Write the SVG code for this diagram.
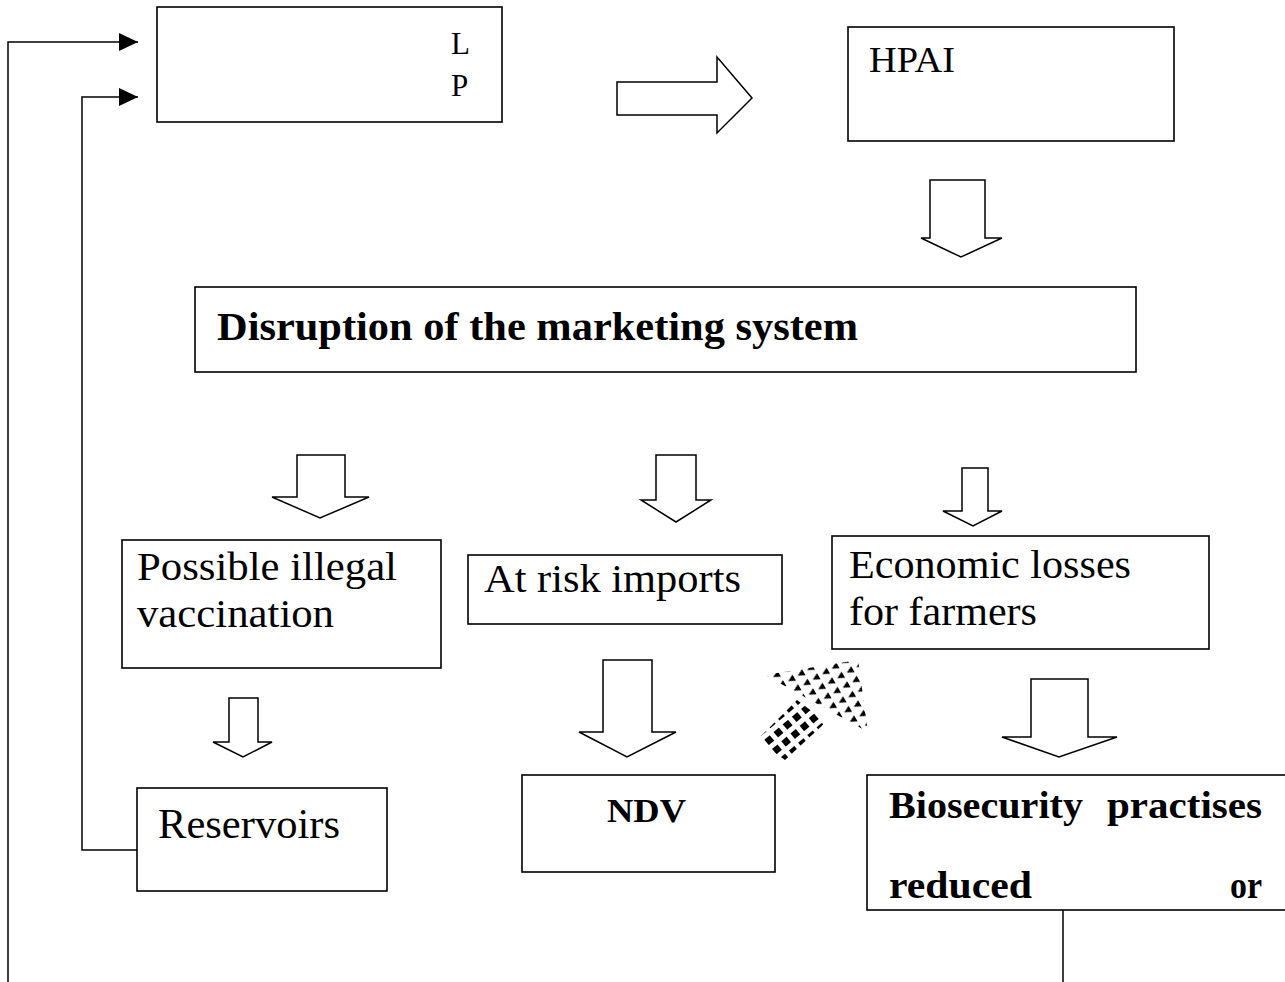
<svg xmlns="http://www.w3.org/2000/svg" width="1285" height="982" viewBox="0 0 1285 982">
  <style>
    .box { fill: #fff; stroke: #000; stroke-width: 1.6; }
    .blk { fill: #fff; stroke: #000; stroke-width: 1.5; stroke-linejoin: miter; }
    .wire { fill: none; stroke: #000; stroke-width: 1.5; }
    .t { font-family: "Liberation Serif", "Times New Roman", serif; fill: #000; }
    .b { font-weight: bold; }
  </style>
  <defs>
    <marker id="head" markerWidth="20" markerHeight="20" refX="19" refY="9" orient="auto" markerUnits="userSpaceOnUse">
      <path d="M0,0 L19,9 L0,18 Z" fill="#000"/>
    </marker>
    <!-- dark diamonds for the shaft of the patterned arrow -->
    <pattern id="dots" width="12" height="12" patternUnits="userSpaceOnUse" patternTransform="rotate(-40)">
      <rect x="2" y="2" width="7" height="7" fill="#000"/>
    </pattern>
    <!-- small triangles for the head of the patterned arrow -->
    <pattern id="tris" width="11" height="11" patternUnits="userSpaceOnUse" patternTransform="rotate(-30)">
      <path d="M1,5 L8,1.5 L8,8.5 Z" fill="#000"/>
    </pattern>
  </defs>

  <!-- connectors -->
  <g id="connectors">
    <path class="wire" d="M8,982 V42 H138" marker-end="url(#head)"/>
    <path class="wire" d="M137,850 H82 V97 H138" marker-end="url(#head)"/>
    <path class="wire" d="M1063,910 V982"/>
    <!-- block arrows -->
    <path class="blk" d="M617,82 H717 V57 L752,98 L717,133 V115 H617 Z"/>
    <path class="blk" d="M930,180 H985 V238 H1002 L961,257 L921,238 H930 Z"/>
    <path class="blk" d="M297,455 H345 V497 H369 L320,518 L272,497 H297 Z"/>
    <path class="blk" d="M656,455 H696 V500 H711 L676,522 L641,500 H656 Z"/>
    <path class="blk" d="M962,468 H988 V511 H1002 L973,526 L943,511 H962 Z"/>
    <path class="blk" d="M229,698 H258 V742 H272 L243,757 L213,742 H229 Z"/>
    <path class="blk" d="M603,660 H652 V732 H676 L627,757 L579,732 H603 Z"/>
    <path class="blk" d="M1031,679 H1088 V737 H1117 L1059,757 L1002,737 H1031 Z"/>
    <!-- patterned diagonal arrow -->
    <g id="diag-arrow">
      <path d="M757,740 L785,760 L826,722 L797,700 Z" fill="url(#dots)"/>
      <path d="M765,675 L858,660 L868,732 Z" fill="url(#tris)"/>
    </g>
  </g>

  <g id="node-lp">
    <rect class="box" x="157" y="7" width="345" height="115"/>
    <text class="t" x="451" y="54" font-size="31">L</text>
    <text class="t" x="451" y="96" font-size="31">P</text>
  </g>

  <g id="node-hpai">
    <rect class="box" x="848" y="27" width="326" height="114"/>
    <text class="t" x="869" y="72" font-size="36" textLength="86" lengthAdjust="spacingAndGlyphs">HPAI</text>
  </g>

  <g id="node-disruption">
    <rect class="box" x="195" y="287" width="941" height="85"/>
    <text class="t b" x="217" y="340" font-size="41" textLength="641" lengthAdjust="spacingAndGlyphs">Disruption of the marketing system</text>
  </g>

  <g id="node-vaccination">
    <rect class="box" x="122" y="540" width="319" height="128"/>
    <text class="t" x="137" y="580" font-size="40" textLength="260" lengthAdjust="spacingAndGlyphs">Possible illegal</text>
    <text class="t" x="137" y="627" font-size="40" textLength="197" lengthAdjust="spacingAndGlyphs">vaccination</text>
  </g>

  <g id="node-imports">
    <rect class="box" x="468" y="555" width="314" height="69"/>
    <text class="t" x="484" y="592" font-size="40" textLength="257" lengthAdjust="spacingAndGlyphs">At risk imports</text>
  </g>

  <g id="node-losses">
    <rect class="box" x="832" y="536" width="377" height="113"/>
    <text class="t" x="849" y="578" font-size="40" textLength="282" lengthAdjust="spacingAndGlyphs">Economic losses</text>
    <text class="t" x="849" y="625" font-size="40" textLength="188" lengthAdjust="spacingAndGlyphs">for farmers</text>
  </g>

  <g id="node-reservoirs">
    <rect class="box" x="137" y="788" width="250" height="103"/>
    <text class="t" x="158" y="838" font-size="42" textLength="182" lengthAdjust="spacingAndGlyphs">Reservoirs</text>
  </g>

  <g id="node-ndv">
    <rect class="box" x="522" y="775" width="253" height="97"/>
    <text class="t b" x="607" y="822" font-size="34" textLength="79" lengthAdjust="spacingAndGlyphs">NDV</text>
  </g>

  <g id="node-biosecurity">
    <rect class="box" x="867" y="775" width="430" height="135"/>
    <text class="t b" x="889" y="818" font-size="37" textLength="194" lengthAdjust="spacingAndGlyphs">Biosecurity</text>
    <text class="t b" x="1107" y="818" font-size="37" textLength="155" lengthAdjust="spacingAndGlyphs">practises</text>
    <text class="t b" x="889" y="898" font-size="37" textLength="143" lengthAdjust="spacingAndGlyphs">reduced</text>
    <text class="t b" x="1230" y="898" font-size="37" textLength="32" lengthAdjust="spacingAndGlyphs">or</text>
  </g>
</svg>
